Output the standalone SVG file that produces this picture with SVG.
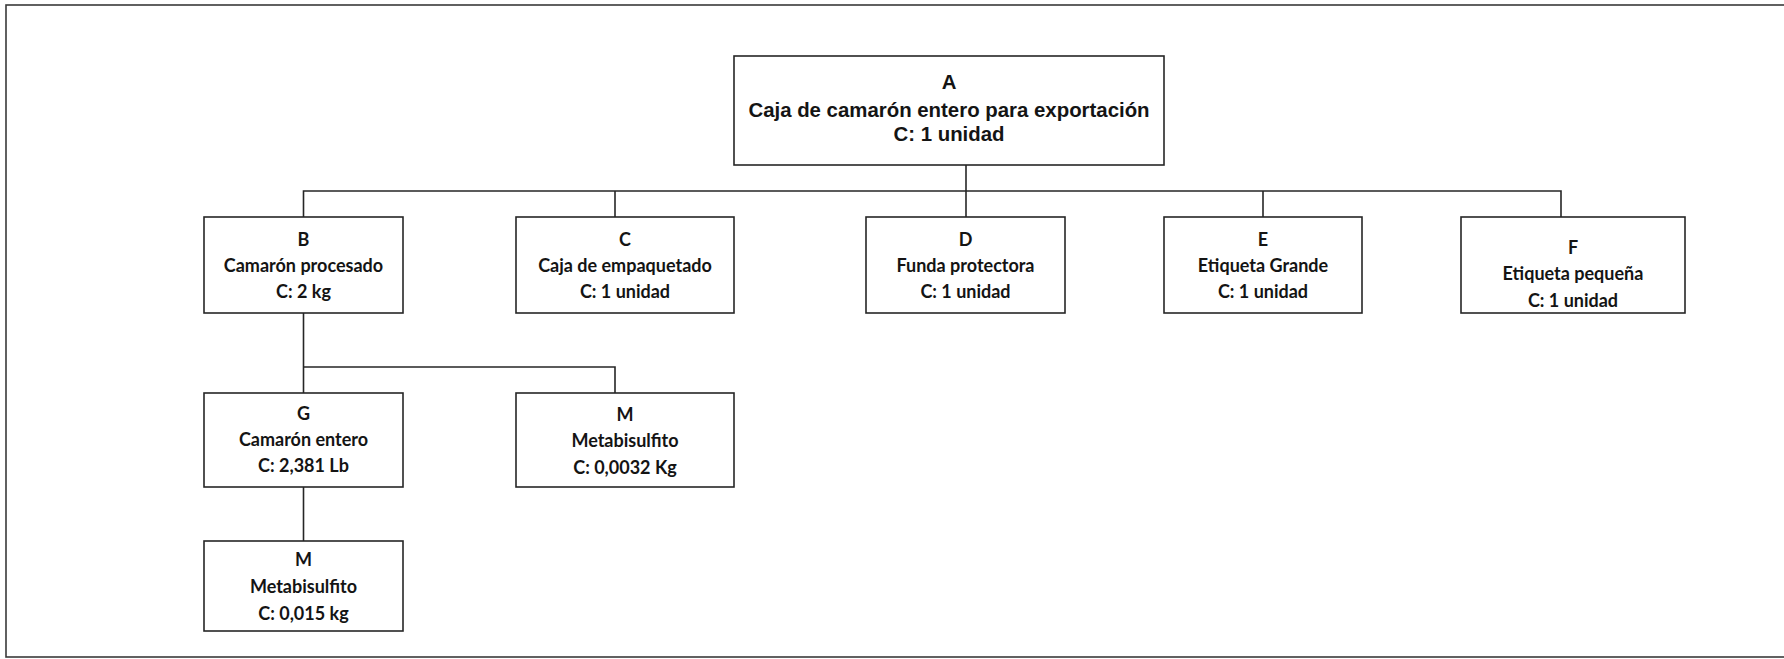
<svg xmlns="http://www.w3.org/2000/svg" width="1784" height="659" viewBox="0 0 1784 659">
  <style>
    .frame { fill: none; stroke: #3a3a3a; stroke-width: 1.6; }
    .box { fill: #ffffff; stroke: #262626; stroke-width: 1.6; }
    .link { fill: none; stroke: #262626; stroke-width: 1.6; }
    .top { font-family: "Liberation Sans", Arial, sans-serif; font-weight: bold; font-size: 20.4px; fill: #141414; text-anchor: middle; }
    .lbl { font-family: Lato, "Open Sans", sans-serif; font-weight: bold; font-size: 18px; fill: #141414; text-anchor: middle; }
  </style>

  <rect x="0" y="0" width="1784" height="659" fill="#ffffff"/>
  <!-- outer frame; right edge runs past the page -->
  <rect class="frame" x="6" y="5" width="1800" height="652"/>

  <!-- connectors -->
  <g id="connectors">
    <path class="link" d="M966,165 V191"/>
    <path class="link" d="M303.5,217 V191 H1561 V217"/>
    <path class="link" d="M615,191 V217"/>
    <path class="link" d="M966,191 V217"/>
    <path class="link" d="M1263,191 V217"/>
    <path class="link" d="M303.5,313 V393"/>
    <path class="link" d="M303.5,367 H615 V393"/>
    <path class="link" d="M303.5,487 V541"/>
  </g>

  <g id="node-A">
    <rect class="box" x="734" y="56" width="430" height="109"/>
    <text class="top" x="949" y="89">A</text>
    <text class="top" x="949" y="117">Caja de camarón entero para exportación</text>
    <text class="top" x="949" y="141">C: 1 unidad</text>
  </g>

  <g id="node-B">
    <rect class="box" x="204" y="217" width="199" height="96"/>
    <text class="lbl" x="303.5" y="246">B</text>
    <text class="lbl" x="303.5" y="272">Camarón procesado</text>
    <text class="lbl" x="303.5" y="298">C: 2 kg</text>
  </g>

  <g id="node-C">
    <rect class="box" x="516" y="217" width="218" height="96"/>
    <text class="lbl" x="625" y="246">C</text>
    <text class="lbl" x="625" y="272">Caja de empaquetado</text>
    <text class="lbl" x="625" y="298">C: 1 unidad</text>
  </g>

  <g id="node-D">
    <rect class="box" x="866" y="217" width="199" height="96"/>
    <text class="lbl" x="965.5" y="246">D</text>
    <text class="lbl" x="965.5" y="272">Funda protectora</text>
    <text class="lbl" x="965.5" y="298">C: 1 unidad</text>
  </g>

  <g id="node-E">
    <rect class="box" x="1164" y="217" width="198" height="96"/>
    <text class="lbl" x="1263" y="246">E</text>
    <text class="lbl" x="1263" y="272">Etiqueta Grande</text>
    <text class="lbl" x="1263" y="298">C: 1 unidad</text>
  </g>

  <g id="node-F">
    <rect class="box" x="1461" y="217" width="224" height="96"/>
    <text class="lbl" x="1573" y="254">F</text>
    <text class="lbl" x="1573" y="280">Etiqueta pequeña</text>
    <text class="lbl" x="1573" y="307">C: 1 unidad</text>
  </g>

  <g id="node-G">
    <rect class="box" x="204" y="393" width="199" height="94"/>
    <text class="lbl" x="303.5" y="420">G</text>
    <text class="lbl" x="303.5" y="446">Camarón entero</text>
    <text class="lbl" x="303.5" y="472">C: 2,381 Lb</text>
  </g>

  <g id="node-M1">
    <rect class="box" x="516" y="393" width="218" height="94"/>
    <text class="lbl" x="625" y="421">M</text>
    <text class="lbl" x="625" y="447">Metabisulfito</text>
    <text class="lbl" x="625" y="474">C: 0,0032 Kg</text>
  </g>

  <g id="node-M2">
    <rect class="box" x="204" y="541" width="199" height="90"/>
    <text class="lbl" x="303.5" y="566">M</text>
    <text class="lbl" x="303.5" y="593">Metabisulfito</text>
    <text class="lbl" x="303.5" y="620">C: 0,015 kg</text>
  </g>
</svg>
